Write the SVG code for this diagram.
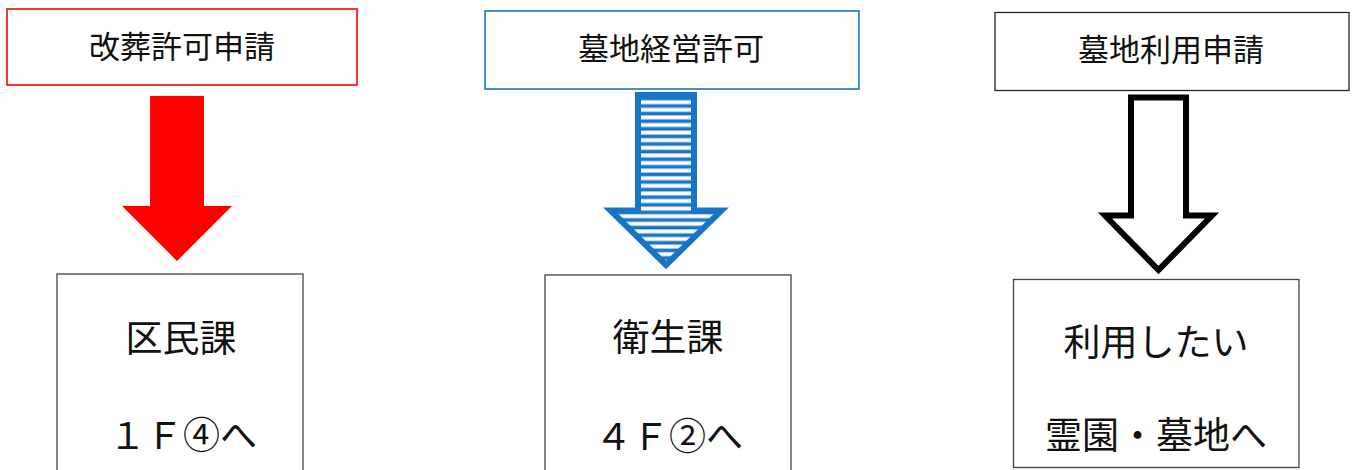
<svg xmlns="http://www.w3.org/2000/svg" width="1356" height="470" viewBox="0 0 1356 470">
<style>
  .lbl { font-family: "Noto Sans CJK JP", "Noto Sans", sans-serif; fill: #111; text-anchor: middle; dominant-baseline: central; }
  .top { font-size: 31px; }
  .big { font-size: 37px; }
  .box { fill: #fff; stroke: #444; stroke-width: 1.3; }
</style>
<defs>
  <pattern id="stripes" patternUnits="userSpaceOnUse" x="0" y="96" width="20" height="7.6">
    <rect x="0" y="0" width="20" height="7.6" fill="#ffffff"/>
    <rect x="0" y="0" width="20" height="1" fill="#9cc3ea"/>
    <rect x="0" y="1" width="20" height="2.8" fill="#1874c6"/>
    <rect x="0" y="3.8" width="20" height="1" fill="#9cc3ea"/>
  </pattern>
</defs>
<rect width="1356" height="470" fill="#fff"/>

<g id="node-kaiso">
  <rect x="7" y="9" width="350" height="76" fill="#fff" stroke="#ff0000" stroke-width="1.6"/>
  <text class="lbl top" x="182" y="44">改葬許可申請</text>
</g>
<g id="node-bochi-keiei">
  <rect x="485" y="11" width="374" height="78" fill="#fff" stroke="#1874c6" stroke-width="1.6"/>
  <text class="lbl top" x="671" y="46">墓地経営許可</text>
</g>
<g id="node-bochi-riyo">
  <rect x="995" y="12.5" width="354" height="78" fill="#fff" stroke="#222" stroke-width="1.3"/>
  <text class="lbl top" x="1171" y="47">墓地利用申請</text>
</g>

<g id="connectors">
  <path d="M150,96 H204 V206 H232 L177,261 L122,206 H150 Z" fill="#ff0000"/>
  <path d="M638,95 H694 V210.5 H721.5 L666,265 L610.5,210.5 H638 Z" fill="url(#stripes)" stroke="#1874c6" stroke-width="6" stroke-linejoin="miter"/>
  <path d="M1131,97.5 H1186 V215.5 H1212 L1158.5,270 L1105,215.5 H1131 Z" fill="#fff" stroke="#000" stroke-width="6" stroke-linejoin="miter"/>
</g>

<g id="node-kuminka">
  <rect class="box" x="57" y="274" width="246" height="210"/>
  <text class="lbl big" x="181" y="336">区民課</text>
  <text class="lbl big" x="183" y="433">１Ｆ④へ</text>
</g>
<g id="node-eiseika">
  <rect class="box" x="545" y="275" width="246" height="210"/>
  <text class="lbl big" x="668" y="335">衛生課</text>
  <text class="lbl big" x="669" y="433.5">４Ｆ②へ</text>
</g>
<g id="node-reien">
  <rect class="box" x="1013.5" y="279.5" width="285.5" height="188"/>
  <text class="lbl big" x="1156" y="339.5">利用したい</text>
  <text class="lbl big" x="1156" y="433">霊園・墓地へ</text>
</g>
</svg>
